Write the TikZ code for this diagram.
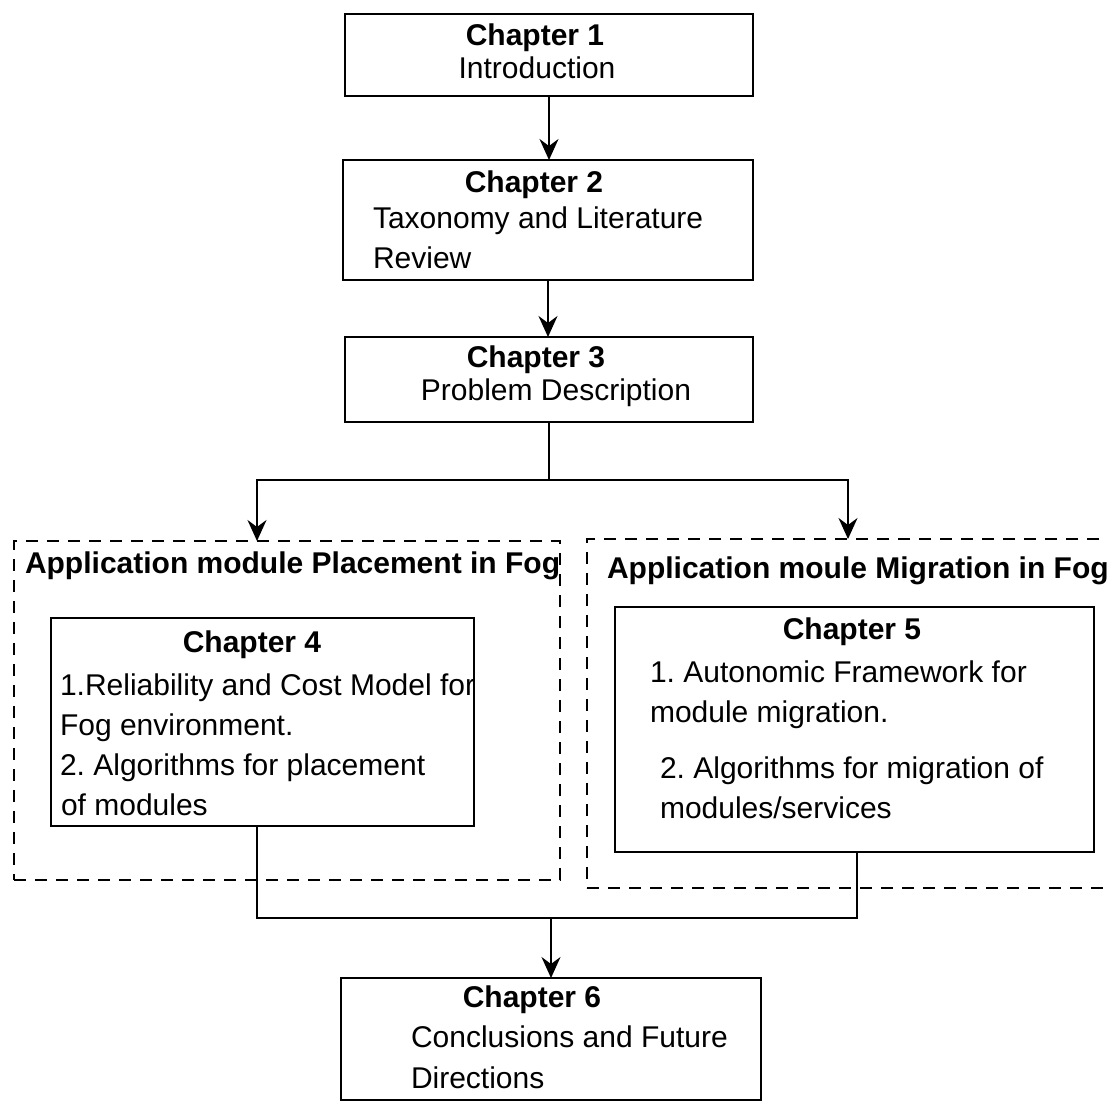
\documentclass[tikz,border=0pt]{standalone}
\usepackage{fontspec}
\setmainfont{Liberation Sans}
\usetikzlibrary{arrows.meta}
\frenchspacing
\begin{document}
\begin{tikzpicture}[x=1pt,y=-1pt,
  txt/.style={inner sep=0pt, outer sep=0pt, font=\fontsize{30}{36}\selectfont},
  head/.style={txt, anchor=base, font=\fontsize{30}{36}\selectfont\bfseries},
  line/.style={txt, anchor=base west},
  chapbox/.style={draw, line width=2pt, inner sep=0pt, outer sep=0pt},
  group/.style={draw, line width=1.8pt, dash pattern=on 12pt off 9pt, inner sep=0pt, outer sep=0pt},
  conn/.style={line width=2pt},
  arr/.style={conn, -{Stealth[length=21pt,width=19pt,inset=7pt]}}]
\clip (0,0) rectangle (1107,1102);

% chapter boxes
\node[chapbox, minimum width=408pt, minimum height=82pt]  (b1) at (549,55) {};
\node[chapbox, minimum width=410pt, minimum height=120pt] (b2) at (548,220) {};
\node[chapbox, minimum width=408pt, minimum height=85pt]  (b3) at (549,379.5) {};
\node[group,   minimum width=546pt, minimum height=339pt] (lgrp) at (287,710.5) {};
\node[group,   minimum width=533pt, minimum height=349pt] (rgrp) at (853.5,713.5) {};
\node[chapbox, minimum width=423pt, minimum height=208pt] (b4) at (262.5,722) {};
\node[chapbox, minimum width=479.5pt, minimum height=245pt] (b5) at (854.25,729.5) {};
\node[chapbox, minimum width=420pt, minimum height=122pt] (b6) at (551,1039) {};

% texts
\node[head] (h1) at (535,46) {Chapter 1};
\node[txt, anchor=base] (t1) at (537,79) {Introduction};

\node[head] (h2) at (534,192) {Chapter 2};
\node[line] (t2a) at (373,228) {Taxonomy and Literature};
\node[line] (t2b) at (373,268) {Review};

\node[head] (h3) at (536,367) {Chapter 3};
\node[txt, anchor=base] (t3) at (556,400) {Problem Description};

\node[txt, anchor=base west, font=\fontsize{30}{36}\selectfont\bfseries] (gl) at (25,573) {Application module Placement in Fog};
\node[txt, anchor=base west, font=\fontsize{30}{36}\selectfont\bfseries] (gr) at (607,578) {Application moule Migration in Fog};

\node[head] (h4) at (252,652) {Chapter 4};
\begin{scope}
  \clip (b4.south west) rectangle (b4.north east);
  \node[line] (t4a) at (60,695) {1.Reliability and Cost Model for};
\end{scope}
\node[line] (t4b) at (60,735) {Fog environment.};
\node[line] (t4c) at (60,775) {2. Algorithms for placement};
\node[line] (t4d) at (61,815) {of modules};

\node[head] (h5) at (852,639) {Chapter 5};
\node[line] (t5a) at (650,682) {1. Autonomic Framework for};
\node[line] (t5b) at (650,722) {module migration.};
\node[line] (t5c) at (660,778) {2. Algorithms for migration of};
\node[line] (t5d) at (660,818) {modules/services};

\node[head] (h6) at (532,1007) {Chapter 6};
\node[line] (t6a) at (411,1047) {Conclusions and Future};
\node[line] (t6b) at (411,1088) {Directions};

% connectors
\coordinate (split) at (549,480);
\coordinate (lin) at (257,541);
\coordinate (rin) at (848,539);
\coordinate (l4) at (257,826);
\coordinate (r5) at (857,852);
\coordinate (join) at (551,918);

\draw[arr] (b1.south) -- (b1.south |- b2.north);
\draw[arr] (b2.south) -- (b2.south |- b3.north);
\draw[conn] (b3.south) -- (split);
\draw[arr] (split) -| (lin);
\draw[arr] (split) -| (rin);
\draw[conn] (l4) |- (join);
\draw[conn] (r5) |- (join);
\draw[arr] (join) -- (b6.north);
\end{tikzpicture}
\end{document}
